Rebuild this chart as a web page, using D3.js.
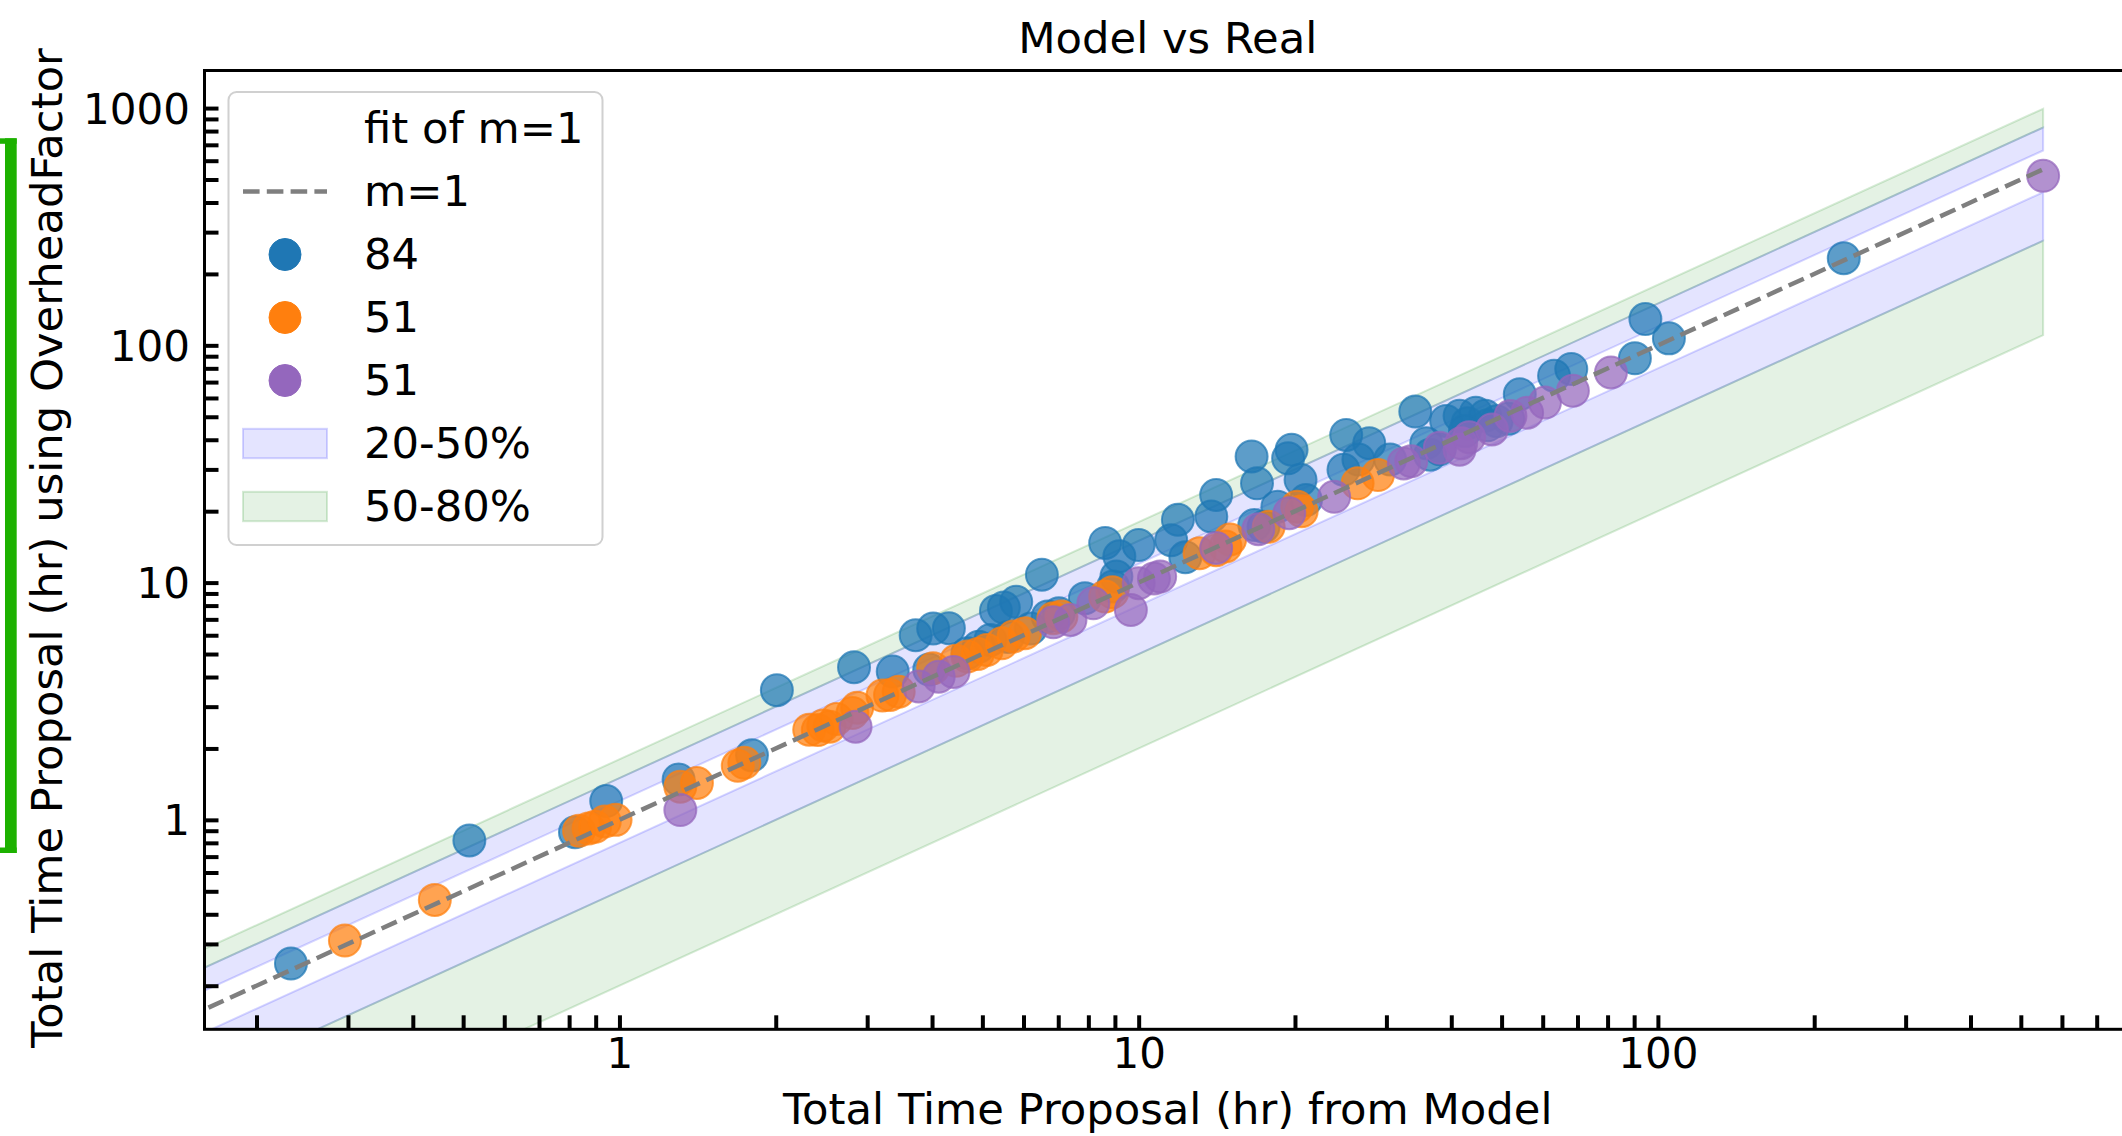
<!DOCTYPE html>
<html>
<head>
<meta charset="utf-8">
<script src="https://cdn.jsdelivr.net/npm/d3@7"></script>
<style>
  body { margin: 0; background: #fff; }
  text { font-family: "DejaVu Sans", "Noto Sans", sans-serif; fill: #000; }
</style>
</head>
<body>
<svg id="chart" width="2122" height="1136"></svg>
<script>
// ---- data -------------------------------------------------------------
const titleText = "Model vs Real";
const xLabelText = "Total Time Proposal (hr) from Model";
const yLabelText = "Total Time Proposal (hr) using OverheadFactor";

const seriesNames = ["84", "51", "51"];
const seriesColors = ["#1f77b4", "#ff7f0e", "#9467bd"];

const blueX = [0.233, 0.514, 0.821, 0.943, 1.30, 1.80, 2.01, 2.83, 3.36, 3.72, 4.02, 4.31, 4.68, 4.92, 5.18,
  5.31, 5.50, 5.81, 6.51, 6.68, 7.02, 7.88, 8.62, 9.18, 9.06, 8.93, 10.0, 11.55, 11.9, 13.8, 14.1, 16.5, 16.9,
  16.7, 17.4, 19.7, 19.4, 20.5, 21.0, 18.5, 25.1, 24.8, 27.8, 26.5, 34.1, 35.8, 36.4, 39.1, 41.5, 43.0, 44.6,
  46.5, 48.9, 51.5, 54.2, 63.1, 68.1, 90.3, 94.6, 105, 228, 3.95, 5.60, 6.20, 12.3, 30.5, 38.0, 42.5, 47.0];
const blueY = [0.248, 0.819, 0.887, 1.20, 1.48, 1.87, 3.52, 4.40, 4.22, 6.00, 6.40, 6.42, 5.04, 5.37, 5.73,
  7.60, 7.85, 8.30, 10.8, 7.19, 7.43, 8.60, 14.7, 12.9, 10.6, 9.62, 14.4, 15.1, 18.4, 19.0, 23.4, 34.0, 26.2,
  17.5, 17.2, 36.3, 33.4, 27.1, 22.3, 20.9, 41.9, 29.9, 38.7, 33.0, 52.6, 38.7, 34.6, 48.0, 50.5, 47.0, 52.0,
  50.5, 47.9, 49.0, 62.2, 74.5, 79.5, 88.2, 129, 107, 233, 4.30, 5.90, 6.40, 12.8, 33.0, 36.5, 43.5, 46.0];

const orangeX = [0.296, 0.441, 0.836, 0.872, 0.898, 0.937, 0.983, 1.31, 1.41, 1.69, 1.74, 2.32, 2.41, 2.47, 2.54,
  2.62, 2.81, 2.87, 3.21, 3.32, 3.45, 4.02, 4.45, 4.68, 4.90, 5.10, 5.45, 5.74, 6.04, 6.85, 7.10, 8.62, 8.90,
  13.1, 14.1, 14.7, 15.0, 17.8, 20.2, 20.6, 26.4, 28.9];
const orangeY = [0.310, 0.460, 0.90, 0.92, 0.935, 0.985, 1.00, 1.38, 1.43, 1.69, 1.74, 2.40, 2.39, 2.50, 2.47,
  2.66, 2.82, 2.97, 3.34, 3.36, 3.47, 4.36, 4.68, 4.88, 5.00, 5.20, 5.55, 5.93, 6.12, 7.08, 7.20, 8.73, 9.10,
  13.3, 13.7, 14.2, 15.2, 17.2, 20.9, 20.0, 26.2, 28.4];

const purpleX = [1.31, 2.85, 3.77, 4.12, 4.40, 6.85, 7.39, 8.18, 9.66, 10.0, 10.7, 11.0, 14.1, 17.0, 19.5, 23.8,
  32.4, 33.5, 38.0, 41.5, 41.8, 43.3, 47.9, 52.0, 56.0, 60.6, 68.6, 81.2, 552];
const purpleY = [1.10, 2.47, 3.65, 4.01, 4.20, 6.80, 6.96, 8.18, 7.67, 9.94, 10.4, 10.6, 14.0, 16.8, 19.6, 23.0,
  31.8, 32.5, 37.0, 36.3, 38.7, 41.0, 44.2, 50.4, 52.0, 57.4, 64.3, 76.9, 518];

// deviation bands around the one-to-one line, as multiples of x
const bandLabels = ["20-50%", "50-80%"];
const bandColors = ["blue", "green"];
const bandFactors = [
  [[1.2, 1.5], [0.5, 0.8]],   // 20-50%
  [[1.5, 1.8], [0.2, 0.5]]    // 50-80%
];
const lineLabel = "m=1";
const fitLabel = "fit of m=1";

const xMajorTicks = [1, 10, 100];
const xTickLabels = ["1", "10", "100"];
const yMajorTicks = [1, 10, 100, 1000];
const yTickLabels = ["1", "10", "100", "1000"];

// ---- layout -------------------------------------------------------------
const svg = d3.select("#chart");
svg.append("rect").attr("width", 2122).attr("height", 1136).attr("fill", "#fff");

const plot = { left: 204.5, right: 2131, top: 70.5, bottom: 1029.3 };
const FS = 43.3;      // title, axis labels, legend
const TFS = 42;       // tick labels

const x = d3.scaleLog().domain([0.1588, 815]).range([plot.left, plot.right]);
const y = d3.scaleLog().domain([0.131, 1440]).range([plot.bottom, plot.top]);

svg.append("clipPath").attr("id", "plotClip")
  .append("rect")
  .attr("x", plot.left).attr("y", plot.top)
  .attr("width", plot.right - plot.left).attr("height", plot.bottom - plot.top);

const inner = svg.append("g").attr("clip-path", "url(#plotClip)");

const series = [
  { name: seriesNames[0], color: seriesColors[0], xs: blueX, ys: blueY },
  { name: seriesNames[1], color: seriesColors[1], xs: orangeX, ys: orangeY },
  { name: seriesNames[2], color: seriesColors[2], xs: purpleX, ys: purpleY }
];

const allX = blueX.concat(orangeX, purpleX);
const lineRange = [0.1, d3.max(allX)];

// bands
bandFactors.forEach((pairs, i) => {
  pairs.forEach(([lo, hi]) => {
    const area = d3.area()
      .x(d => x(d))
      .y0(d => y(d * lo))
      .y1(d => y(d * hi));
    inner.append("path")
      .datum(lineRange)
      .attr("d", area)
      .attr("fill", bandColors[i])
      .attr("fill-opacity", 0.105)
      .attr("stroke", bandColors[i])
      .attr("stroke-opacity", 0.16)
      .attr("stroke-width", 2);
  });
});

// scatter points
series.forEach(s => {
  inner.append("g").selectAll("circle")
    .data(s.xs.map((v, i) => [v, s.ys[i]]))
    .join("circle")
    .attr("cx", d => x(d[0]))
    .attr("cy", d => y(d[1]))
    .attr("r", 16)
    .attr("fill", s.color)
    .attr("fill-opacity", 0.72)
    .attr("stroke", s.color)
    .attr("stroke-opacity", 0.72)
    .attr("stroke-width", 2);
});

// one-to-one line
inner.append("path")
  .datum(lineRange)
  .attr("d", d3.line().x(d => x(d)).y(d => y(d)))
  .attr("fill", "none")
  .attr("stroke", "#7f7f7f")
  .attr("stroke-width", 4.5)
  .attr("stroke-dasharray", "16.6,7.2");

// ---- axes -------------------------------------------------------------
function minorTicks(lo, hi) {
  const out = [];
  for (let e = lo; e <= hi; e++) {
    for (let m = 2; m <= 9; m++) out.push(m * Math.pow(10, e));
  }
  return out;
}
const TL = 14;

function styleAxis(g) {
  g.select(".domain").remove();
  g.selectAll(".tick line").attr("stroke", "#000").attr("stroke-width", 4);
}

const xAxisMajor = d3.axisBottom(x).tickValues(xMajorTicks)
  .tickFormat((d, i) => xTickLabels[i]).tickSizeInner(-TL).tickSizeOuter(0);
const gx = svg.append("g").attr("transform", `translate(0,${plot.bottom})`).call(xAxisMajor).call(styleAxis);
gx.selectAll(".tick text").attr("y", 38.7).attr("dy", 0)
  .style("font-size", TFS + "px").style("font-family", "DejaVu Sans");

svg.append("g").attr("transform", `translate(0,${plot.bottom})`)
  .call(d3.axisBottom(x).tickValues(minorTicks(-1, 2).filter(v => v > 0.1588 && v < 815))
    .tickFormat("").tickSizeInner(-TL).tickSizeOuter(0))
  .call(styleAxis);

const yAxisMajor = d3.axisLeft(y).tickValues(yMajorTicks)
  .tickFormat((d, i) => yTickLabels[i]).tickSizeInner(-TL).tickSizeOuter(0);
const gy = svg.append("g").attr("transform", `translate(${plot.left},0)`).call(yAxisMajor).call(styleAxis);
gy.selectAll(".tick text").attr("x", -14.5).attr("dy", "0.36em")
  .style("font-size", TFS + "px").style("font-family", "DejaVu Sans");

svg.append("g").attr("transform", `translate(${plot.left},0)`)
  .call(d3.axisLeft(y).tickValues(minorTicks(-1, 2).filter(v => v > 0.131 && v < 1440))
    .tickFormat("").tickSizeInner(-TL).tickSizeOuter(0))
  .call(styleAxis);

// frame
svg.append("rect")
  .attr("x", plot.left).attr("y", plot.top)
  .attr("width", plot.right - plot.left).attr("height", plot.bottom - plot.top)
  .attr("fill", "none").attr("stroke", "#000").attr("stroke-width", 3);

// ---- titles -------------------------------------------------------------
const cx = (plot.left + plot.right) / 2;
svg.append("text").attr("x", cx).attr("y", 52.7).attr("text-anchor", "middle")
  .style("font-size", FS + "px").text(titleText);
svg.append("text").attr("x", cx).attr("y", 1124).attr("text-anchor", "middle")
  .style("font-size", FS + "px").text(xLabelText);
svg.append("text")
  .attr("transform", `translate(62,${(plot.top + plot.bottom) / 2 - 2}) rotate(-90)`)
  .attr("text-anchor", "middle")
  .style("font-size", FS + "px").text(yLabelText);

// ---- legend -------------------------------------------------------------
const lg = svg.append("g");
lg.append("rect")
  .attr("x", 228.5).attr("y", 92).attr("width", 374).attr("height", 453)
  .attr("rx", 8).attr("ry", 8)
  .attr("fill", "#fff").attr("fill-opacity", 0.8)
  .attr("stroke", "#d0d0d0").attr("stroke-width", 2);

const legendRows = [
  { label: fitLabel, kind: "none" },
  { label: lineLabel, kind: "line" },
  { label: series[0].name, kind: "dot", color: series[0].color },
  { label: series[1].name, kind: "dot", color: series[1].color },
  { label: series[2].name, kind: "dot", color: series[2].color },
  { label: bandLabels[0], kind: "patch", color: bandColors[0] },
  { label: bandLabels[1], kind: "patch", color: bandColors[1] }
];
const hx0 = 243, hx1 = 327, textX = 364;
legendRows.forEach((row, i) => {
  const base = 143 + 63 * i;
  const cy = base - 14.5;
  if (row.kind === "line") {
    lg.append("line").attr("x1", hx0).attr("x2", hx1).attr("y1", cy).attr("y2", cy)
      .attr("stroke", "#7f7f7f").attr("stroke-width", 4.5).attr("stroke-dasharray", "16.6,7.2");
  } else if (row.kind === "dot") {
    lg.append("circle").attr("cx", (hx0 + hx1) / 2).attr("cy", cy).attr("r", 16)
      .attr("fill", row.color).attr("stroke", row.color).attr("stroke-width", 1);
  } else if (row.kind === "patch") {
    lg.append("rect").attr("x", hx0).attr("y", cy - 14.7).attr("width", hx1 - hx0).attr("height", 29.4)
      .attr("fill", row.color).attr("fill-opacity", 0.105)
      .attr("stroke", row.color).attr("stroke-opacity", 0.16).attr("stroke-width", 2);
  }
  lg.append("text").attr("x", textX).attr("y", base)
    .style("font-size", FS + "px").text(row.label);
});

// ---- highlight bracket at the left edge ---------------------------------
const mark = svg.append("g").attr("fill", "#1db100");
mark.append("rect").attr("x", 5).attr("y", 138.3).attr("width", 11.7).attr("height", 714.7);
mark.append("rect").attr("x", 0).attr("y", 138.3).attr("width", 16.7).attr("height", 5.5);
mark.append("rect").attr("x", 0).attr("y", 847.5).attr("width", 16.7).attr("height", 5.5);
</script>
</body>
</html>
